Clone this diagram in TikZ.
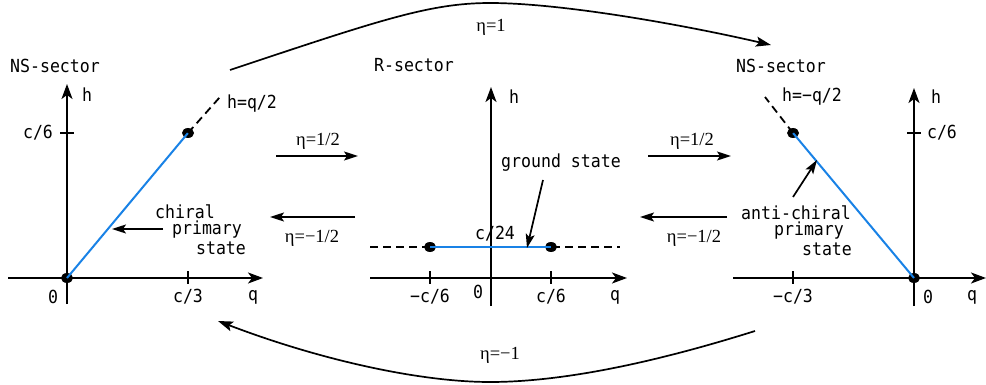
\documentclass[tikz,border=0pt]{standalone}
\usepackage{fontspec}
\setmonofont[FakeStretch=0.92]{DejaVu Sans Mono}
\newfontfamily\etafont{Liberation Serif}
\usetikzlibrary{arrows.meta,shapes.geometric}
\definecolor{lineblue}{RGB}{25,130,230}
\begin{document}
\begin{tikzpicture}[x=1pt,y=-1pt,
  lbl/.style={font=\ttfamily\fontsize{18}{20}\selectfont, inner sep=0pt},
  eta/.style={font=\etafont\fontsize{18.5}{20}\selectfont, inner sep=0pt},
  axis/.style={line width=1.8pt, -{Stealth[length=15pt,width=11pt,inset=4pt]}},
  tickmark/.style={line width=1.6pt},
  bluel/.style={lineblue, line width=2pt},
  dashl/.style={line width=1.8pt, dash pattern=on 8pt off 5pt},
  dotn/.style={ellipse, fill=black, inner sep=0pt, minimum width=12pt, minimum height=10pt},
  arr/.style={line width=1.7pt, -{Stealth[length=14pt,width=9pt,inset=3pt]}},
  bigarr/.style={line width=1.7pt, -{Stealth[length=15pt,width=10pt,inset=3pt]}}]
\useasboundingbox (0,0) rectangle (986,385);

% ---------------- left panel ----------------
\coordinate (Lhb) at (67,304); \coordinate (Lht) at (67,84);
\coordinate (Lql) at (8,278);  \coordinate (Lqr) at (263,278);
\draw[axis] (Lhb) -- (Lht);
\draw[axis] (Lql) -- (Lqr);
\draw[tickmark] (60,133) -- (74,133);
\draw[tickmark] (188,271) -- (188,284);
\coordinate (Lend) at (220,97);
\node[dotn] (Ld0) at (67,278) {};
\node[dotn] (Ld1) at (188,133) {};
\draw[bluel] (Ld0.center) -- (Ld1.center);
\draw[dashl] (Ld1.center) -- (Lend);
\node[lbl] (Ltitle) at (55,66) {NS-sector};
\node[lbl] (Lh) at (87,95) {h};
\node[lbl] (Lc6) at (38,133) {c/6};
\node[lbl] (Lc3) at (188,297) {c/3};
\node[lbl] (Lzero) at (53,297) {0};
\node[lbl] (Lq) at (253,297) {q};
\node[lbl] (Lhq) at (252,104) {h=q/2};
\node[lbl] (Lch1) at (185,212) {chiral};
\node[lbl] (Lch2) at (207,230) {primary};
\node[lbl] (Lch3) at (221,248) {state};
\coordinate (Lptr) at (112,229);
\coordinate (Lptrs) at (163,229);
\draw[arr] (Lptrs) -- (Lptr);

% ---------------- middle panel ----------------
\coordinate (Mhb) at (491,306); \coordinate (Mht) at (491,87);
\coordinate (Mql) at (370,278); \coordinate (Mqr) at (627,278);
\draw[axis] (Mhb) -- (Mht);
\draw[axis] (Mql) -- (Mqr);
\draw[tickmark] (430,271) -- (430,284);
\draw[tickmark] (551,271) -- (551,284);
\coordinate (Mdl) at (370,247); \coordinate (Mdr) at (620,247);
\draw[dashl] (Mdl) -- (Mdr);
\node[dotn] (Md1) at (430,247) {};
\node[dotn] (Md2) at (551,247) {};
\draw[bluel] (Md1.center) -- (Md2.center);
\node[lbl] (Mtitle) at (414,65) {R-sector};
\node[lbl] (Mh) at (514,97) {h};
\node[lbl] (Mc24) at (495,234) {c/24};
\node[lbl] (Mground) at (561,163) {ground state};
\node[lbl] (Mm6) at (430,297) {−c/6};
\node[lbl] (Mp6) at (551,297) {c/6};
\node[lbl] (Mzero) at (478,292) {0};
\node[lbl] (Mq) at (615,297) {q};
\coordinate (Mptr) at (527,248);
\coordinate (Mptrs) at (543,180);
\draw[arr] (Mptrs) -- (Mptr);

% ---------------- right panel ----------------
\coordinate (Rhb) at (914,306); \coordinate (Rht) at (914,88);
\coordinate (Rql) at (733,278); \coordinate (Rqr) at (986,278);
\draw[axis] (Rhb) -- (Rht);
\draw[axis] (Rql) -- (Rqr);
\draw[tickmark] (907,133) -- (921,133);
\draw[tickmark] (793,271) -- (793,284);
\coordinate (Rend) at (765,97);
\node[dotn] (Rd0) at (914,278) {};
\node[dotn] (Rd1) at (793,133) {};
\draw[bluel] (Rd0.center) -- (Rd1.center);
\draw[dashl] (Rd1.center) -- (Rend);
\node[lbl] (Rtitle) at (781,66) {NS-sector};
\node[lbl] (Rh) at (936,97) {h};
\node[lbl] (Rc6) at (942,133) {c/6};
\node[lbl] (Rm3) at (793,297) {−c/3};
\node[lbl] (Rzero) at (928,297) {0};
\node[lbl] (Rq) at (972,297) {q};
\node[lbl] (Rhq) at (812,97) {h=−q/2};
\node[lbl] (Rac1) at (796,213) {anti-chiral};
\node[lbl] (Rac2) at (809,231) {primary};
\node[lbl] (Rac3) at (827,249) {state};
\coordinate (Rptr) at (817,160);
\coordinate (Rptrs) at (793,197);
\draw[arr] (Rptrs) -- (Rptr);

% ---------------- transitions ----------------
\node[eta] (e1) at (318,141) {η=1/2};
\coordinate (a1s) at (276,156); \coordinate (a1e) at (358,156);
\draw[arr] (a1s) -- (a1e);
\node[eta] (e2) at (312,238) {η=−1/2};
\coordinate (a2s) at (355,217); \coordinate (a2e) at (270,217);
\draw[arr] (a2s) -- (a2e);
\node[eta] (e3) at (692,141) {η=1/2};
\coordinate (a3s) at (648,156); \coordinate (a3e) at (731,156);
\draw[arr] (a3s) -- (a3e);
\node[eta] (e4) at (694,238) {η=−1/2};
\coordinate (a4s) at (727,217); \coordinate (a4e) at (640,217);
\draw[arr] (a4s) -- (a4e);

\node[eta] (etop) at (491,27) {η=1};
\coordinate (ts) at (230,70); \coordinate (tp) at (490,3); \coordinate (te) at (771,45);
\draw[bigarr] (ts) .. controls (380,20) and (430,3) .. (tp) .. controls (560,3) and (680,24) .. (te);

\node[eta] (ebot) at (500,355) {η=−1};
\coordinate (bs) at (755,331); \coordinate (bp) at (490,382); \coordinate (be) at (218,321);
\draw[bigarr] (bs) .. controls (650,364) and (560,382) .. (bp) .. controls (420,382) and (320,360) .. (be);
\end{tikzpicture}
\end{document}
